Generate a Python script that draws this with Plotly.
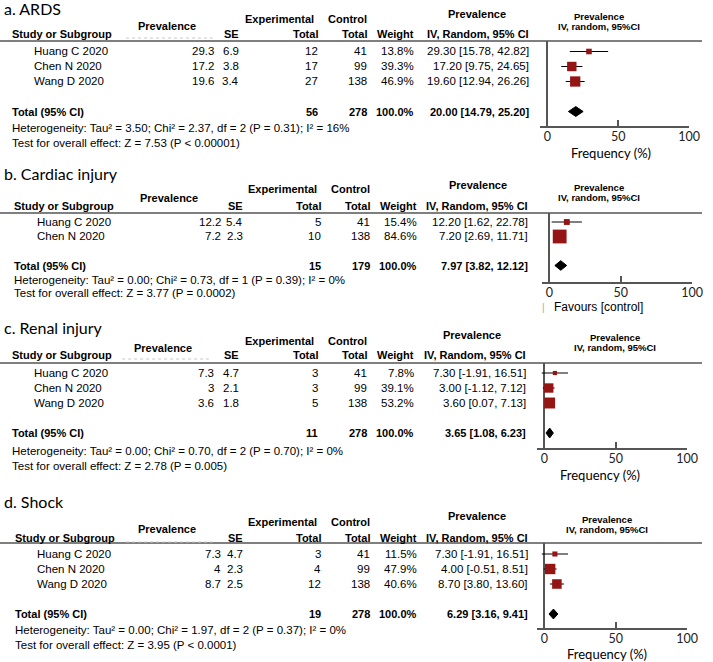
import math
import plotly.graph_objects as go

W, H = 713, 662

# ---------------- data ----------------
panel_titles = ["a. ARDS", "b. Cardiac injury", "c. Renal injury", "d. Shock"]

studies_a = ["Huang C 2020", "Chen N 2020", "Wang D 2020"]
prev_a = [29.3, 17.2, 19.6]
se_a = [6.9, 3.8, 3.4]
exp_total_a = [12, 17, 27]
ctrl_total_a = [41, 99, 138]
weight_a = [13.8, 39.3, 46.9]
ci_low_a = [15.78, 9.75, 12.94]
ci_high_a = [42.82, 24.65, 26.26]

studies_b = ["Huang C 2020", "Chen N 2020"]
prev_b = [12.2, 7.2]
se_b = [5.4, 2.3]
exp_total_b = [5, 10]
ctrl_total_b = [41, 138]
weight_b = [15.4, 84.6]
ci_low_b = [1.62, 2.69]
ci_high_b = [22.78, 11.71]

studies_c = ["Huang C 2020", "Chen N 2020", "Wang D 2020"]
prev_c = [7.3, 3, 3.6]
se_c = [4.7, 2.1, 1.8]
exp_total_c = [3, 3, 5]
ctrl_total_c = [41, 99, 138]
weight_c = [7.8, 39.1, 53.2]
ci_low_c = [-1.91, -1.12, 0.07]
ci_high_c = [16.51, 7.12, 7.13]

studies_d = ["Huang C 2020", "Chen N 2020", "Wang D 2020"]
prev_d = [7.3, 4, 8.7]
se_d = [4.7, 2.3, 2.5]
exp_total_d = [3, 4, 12]
ctrl_total_d = [41, 99, 138]
weight_d = [11.5, 47.9, 40.6]
ci_low_d = [-1.91, -0.51, 3.80]
ci_high_d = [16.51, 8.51, 13.60]

pooled_est = [20.00, 7.97, 3.65, 6.29]
pooled_low = [14.79, 3.82, 1.08, 3.16]
pooled_high = [25.20, 12.12, 6.23, 9.41]
pooled_exp_total = [56, 15, 11, 19]
pooled_ctrl_total = [278, 179, 278, 278]
pooled_weight = [100.0, 100.0, 100.0, 100.0]
tau2 = ["3.50", "0.00", "0.00", "0.00"]
chi2 = ["2.37", "0.73", "0.70", "1.97"]
dfs = [2, 1, 2, 2]
het_p = ["0.31", "0.39", "0.70", "0.37"]
i2 = [16, 0, 0, 0]
z_vals = ["7.53", "3.77", "2.78", "3.95"]
z_p = ["< 0.00001", "= 0.0002", "= 0.005", "< 0.0001"]
axis_tickvals = [-5, 0, 50, 100]
axis_ticktext = ["", "0", "50", "100"]
axis_labels = ["Frequency (%)", "Favours [control]", "Frequency (%)", "Frequency (%)"]

panels = [
    (studies_a, prev_a, se_a, exp_total_a, ctrl_total_a, weight_a, ci_low_a, ci_high_a),
    (studies_b, prev_b, se_b, exp_total_b, ctrl_total_b, weight_b, ci_low_b, ci_high_b),
    (studies_c, prev_c, se_c, exp_total_c, ctrl_total_c, weight_c, ci_low_c, ci_high_c),
    (studies_d, prev_d, se_d, exp_total_d, ctrl_total_d, weight_d, ci_low_d, ci_high_d),
]

# ---------------- layout (pixel positions) ----------------
L = [
    dict(title_y=8, hdr1_y=19, prev1_y=26, prev2_y=14, hdr2_y=34, line_y=41, row1_y=51.5, step=15,
         axis_y=126, het_y=128, test_y=143, foot_y=153, fh1_y=16, fh2_y=26, fh_x=608,
         study_x=10, name_x=32, prev_r=219, se_r=245, exp_r=325, ctrl_r=375, w_r=423, ci_r=539,
         ctrl_l=331, prev1_c=170, prev2_c=484, zero_x=556, x100=700, foot_x=621, ghost=True),
    dict(title_y=173, hdr1_y=189, prev1_y=198, prev2_y=185, hdr2_y=206, line_y=213, row1_y=222, step=14.5,
         axis_y=282, het_y=280, test_y=293, foot_y=307, fh1_y=187, fh2_y=197, fh_x=608,
         study_x=12, name_x=36, prev_r=227, se_r=249, exp_r=328, ctrl_r=378, w_r=426, ci_r=538,
         ctrl_l=334, prev1_c=172, prev2_c=485, zero_x=558, x100=703, foot_x=608, ghost=False),
    dict(title_y=327, hdr1_y=341, prev1_y=348, prev2_y=335, hdr2_y=355, line_y=363, row1_y=373, step=15,
         axis_y=448, het_y=451, test_y=466, foot_y=475, fh1_y=337, fh2_y=347, fh_x=625,
         study_x=10, name_x=33, prev_r=219, se_r=245, exp_r=325, ctrl_r=375, w_r=423, ci_r=536,
         ctrl_l=331, prev1_c=166, prev2_c=479, zero_x=553, x100=698, foot_x=609, ghost=True),
    dict(title_y=501, hdr1_y=522, prev1_y=529, prev2_y=516, hdr2_y=538, line_y=543, row1_y=554, step=15,
         axis_y=628, het_y=630, test_y=645, foot_y=653.5, fh1_y=519, fh2_y=529, fh_x=617,
         study_x=13, name_x=36, prev_r=227, se_r=249, exp_r=328, ctrl_r=378, w_r=426, ci_r=538,
         ctrl_l=334, prev1_c=170, prev2_c=484, zero_x=553, x100=698, foot_x=617, ghost=True),
]

ARIAL = "Liberation Sans, Arial, sans-serif"
CALIBRI = "Lato, Open Sans, sans-serif"
RED = "#951515"
GRAY = "#555555"
REG = 11.5
BOLD = 11

fig = go.Figure()
ann = []
shapes = []


def pyp(p):
    return 1 - p / H


def pxp(p):
    return p / W


def text(x, y, s, anchor="left", size=REG, bold=False, family=ARIAL, color="black"):
    ann.append(dict(x=pxp(x), y=pyp(y), xref="paper", yref="paper",
                    text=f"<b>{s}</b>" if bold else s, showarrow=False,
                    xanchor=anchor, yanchor="middle",
                    font=dict(family=family, size=size, color=color)))


layout_axes = {}
for k, (studies, prev, se, expt, ctrl, wt, lo, hi) in enumerate(panels):
    p = L[k]
    n = len(studies)
    rows = list(range(1, n + 1))
    total_row = n + 2

    def rpx(r, p=p):
        return p["row1_y"] + (r - 1) * p["step"]

    # ---- table text ----
    text(2, p["title_y"], panel_titles[k], size=16, family=CALIBRI)
    text(p["exp_r"] - 4, p["hdr1_y"], "Experimental", "right", size=BOLD, bold=True)
    text(p["ctrl_l"], p["hdr1_y"], "Control", "left", size=BOLD, bold=True)
    text(p["prev1_c"], p["prev1_y"], "Prevalence", "center", size=BOLD, bold=True)
    text(p["prev2_c"], p["prev2_y"], "Prevalence", "center", size=BOLD, bold=True)
    text(p["study_x"], p["hdr2_y"], "Study or Subgroup", size=BOLD, bold=True)
    text(p["se_r"], p["hdr2_y"], "SE", "right", size=BOLD, bold=True)
    text(p["exp_r"], p["hdr2_y"], "Total", "right", size=BOLD, bold=True)
    text(p["ctrl_r"], p["hdr2_y"], "Total", "right", size=BOLD, bold=True)
    text(p["w_r"], p["hdr2_y"], "Weight", "right", size=BOLD, bold=True)
    text(p["ci_r"], p["hdr2_y"], "IV, Random, 95% CI", "right", size=BOLD, bold=True)
    text(p["fh_x"], p["fh1_y"], "Prevalence", "center", size=9.5, bold=True)
    text(p["fh_x"], p["fh2_y"], "IV, random, 95%CI", "center", size=9.5, bold=True)

    for i in range(n):
        y = rpx(rows[i])
        text(p["name_x"], y, studies[i])
        text(p["prev_r"], y, f"{prev[i]:g}", "right")
        text(p["se_r"], y, f"{se[i]:g}", "right")
        text(p["exp_r"], y, str(expt[i]), "right")
        text(p["ctrl_r"], y, str(ctrl[i]), "right")
        text(p["w_r"], y, f"{wt[i]:.1f}%", "right")
        text(p["ci_r"], y, f"{prev[i]:.2f} [{lo[i]:.2f}, {hi[i]:.2f}]", "right")

    yt = rpx(total_row)
    text(p["study_x"], yt, "Total (95% CI)", size=BOLD, bold=True)
    text(p["exp_r"], yt, str(pooled_exp_total[k]), "right", size=BOLD, bold=True)
    text(p["ctrl_r"], yt, str(pooled_ctrl_total[k]), "right", size=BOLD, bold=True)
    text(p["w_r"], yt, f"{pooled_weight[k]:.1f}%", "right", size=BOLD, bold=True)
    text(p["ci_r"], yt, f"{pooled_est[k]:.2f} [{pooled_low[k]:.2f}, {pooled_high[k]:.2f}]", "right",
         size=BOLD, bold=True)
    text(p["study_x"], p["het_y"],
         f"Heterogeneity: Tau² = {tau2[k]}; Chi² = {chi2[k]}, df = {dfs[k]} (P = {het_p[k]}); I² = {i2[k]}%")
    text(p["study_x"], p["test_y"], f"Test for overall effect: Z = {z_vals[k]} (P {z_p[k]})")

    if axis_labels[k].startswith("Favours"):
        text(p["foot_x"], p["foot_y"], axis_labels[k], "center", size=12)
        text(p["zero_x"] - 6, p["foot_y"], "|", "center", size=10, color="#aaaaaa")
    else:
        text(p["foot_x"], p["foot_y"], axis_labels[k], "center", size=13, family=CALIBRI)

    # header rule
    shapes.append(dict(type="line", xref="paper", yref="paper", x0=0, x1=1,
                       y0=pyp(p["line_y"]), y1=pyp(p["line_y"]),
                       line=dict(color=GRAY, width=1.5)))
    if p["ghost"]:
        shapes.append(dict(type="line", xref="paper", yref="paper",
                           x0=pxp(p["prev1_c"] - 42), x1=pxp(p["prev1_c"] + 46),
                           y0=pyp(p["hdr2_y"] + 4), y1=pyp(p["hdr2_y"] + 4),
                           line=dict(color="#c8c8c8", width=1, dash="dot")))

    # ---- forest plot axes ----
    s = (p["x100"] - p["zero_x"]) / 100.0
    left_px = p["zero_x"] - 5 * s
    r_bottom = 1 + (p["axis_y"] - p["row1_y"]) / p["step"]
    r_top = 1 + (p["line_y"] - p["row1_y"]) / p["step"]
    xa = f"x{k + 1}"
    ya = f"y{k + 1}"
    layout_axes[f"xaxis{k + 1}"] = dict(
        domain=[pxp(left_px), pxp(p["x100"])], range=[-5, 100], anchor=ya,
        showline=True, linecolor=GRAY, linewidth=1.5, mirror=False,
        ticks="inside", ticklen=6, tickwidth=1.5, tickcolor=GRAY,
        tickvals=axis_tickvals, ticktext=axis_ticktext, ticklabelstandoff=-2,
        tickfont=dict(family=CALIBRI, size=12.5, color="#222222"),
        zeroline=True, zerolinecolor=GRAY, zerolinewidth=1.5,
        showgrid=False, fixedrange=True)
    layout_axes[f"yaxis{k + 1}"] = dict(
        domain=[pyp(p["axis_y"]), pyp(p["line_y"])], range=[r_bottom, r_top], anchor=xa,
        visible=False, showgrid=False, zeroline=False, fixedrange=True)

    # study estimates with CI
    fig.add_trace(go.Scatter(
        x=prev, y=rows, mode="markers", xaxis=xa, yaxis=ya, opacity=1,
        marker=dict(symbol="square", color=RED, opacity=1,
                    size=[1.5 * math.sqrt(w) for w in wt],
                    line=dict(width=0)),
        error_x=dict(type="data", symmetric=False,
                     array=[h - e for h, e in zip(hi, prev)],
                     arrayminus=[e - l for e, l in zip(prev, lo)],
                     width=0, thickness=1, color="black"),
        showlegend=False, hoverinfo="skip", cliponaxis=False))

    # pooled diamond
    h = 0.33
    fig.add_trace(go.Scatter(
        x=[pooled_low[k], pooled_est[k], pooled_high[k], pooled_est[k], pooled_low[k]],
        y=[total_row, total_row - h, total_row, total_row + h, total_row],
        mode="lines", fill="toself", fillcolor="black", line=dict(color="black", width=1),
        xaxis=xa, yaxis=ya, showlegend=False, hoverinfo="skip"))

fig.update_layout(
    width=W, height=H, margin=dict(l=0, r=0, t=0, b=0),
    paper_bgcolor="white", plot_bgcolor="white",
    annotations=ann, shapes=shapes, showlegend=False,
    **layout_axes)

fig.write_html("out.html", config={"displayModeBar": False},
               post_script="document.body.style.margin='0px';")
